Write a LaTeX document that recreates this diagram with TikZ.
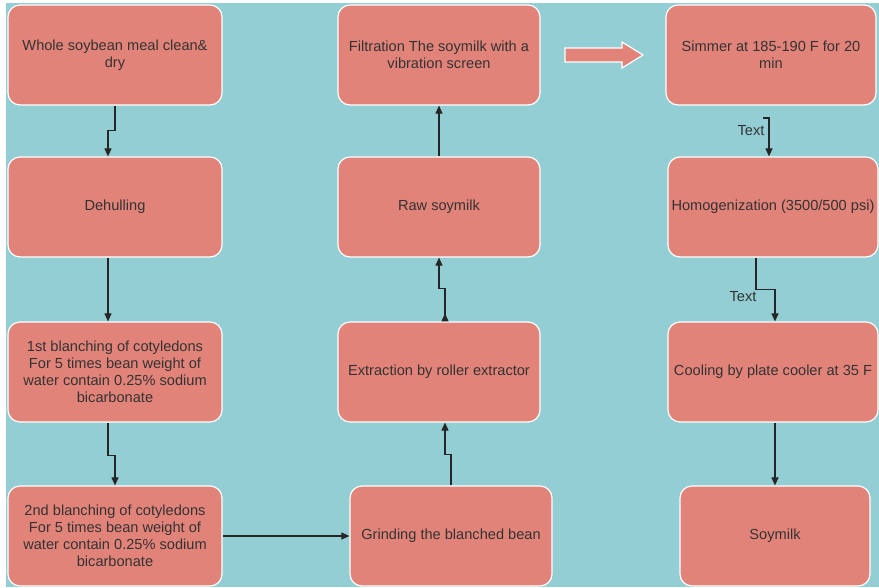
\documentclass[tikz,border=0pt]{standalone}
\usepackage{fontspec}
\setmainfont{Liberation Sans}
\usetikzlibrary{arrows.meta}
\definecolor{tealbg}{RGB}{146,206,211}
\definecolor{salmon}{RGB}{226,131,122}
\definecolor{ink}{RGB}{51,51,51}
\begin{document}
\begin{tikzpicture}[x=1pt,y=-1pt,
  stepbox/.style={draw=white, line width=1.2pt, fill=salmon, rounded corners=12pt,
    minimum height=100pt, inner sep=0pt, align=center, text=ink,
    font=\fontsize{14.6}{17}\selectfont},
  link/.style={draw=black!85, line width=1.1pt, -{Triangle[length=8pt,width=7pt]}},
  lbl/.style={text=ink, inner sep=0pt, font=\fontsize{14.6}{17}\selectfont}]
\useasboundingbox (0,0) rectangle (879,587);
\fill[tealbg] (6,3) rectangle (879,587);
\node[stepbox, minimum width=214pt] (1) at (115,55) {Whole soybean meal clean\&\\dry};
\node[stepbox, minimum width=214pt] (2) at (115,207) {Dehulling};
\node[stepbox, minimum width=214pt] (3) at (115,372) {1st blanching of cotyledons\\For 5 times bean weight of\\water contain 0.25\% sodium\\bicarbonate};
\node[stepbox, minimum width=214pt] (4) at (115,536) {2nd blanching of cotyledons\\For 5 times bean weight of\\water contain 0.25\% sodium\\bicarbonate};
\node[stepbox, minimum width=202pt] (5) at (451,536) {Grinding the blanched bean};
\node[stepbox, minimum width=202pt] (6) at (439,372) {Extraction by roller extractor};
\node[stepbox, minimum width=202pt] (7) at (439,207) {Raw soymilk};
\node[stepbox, minimum width=202pt] (8) at (439,55) {Filtration The soymilk with a\\vibration screen};
\node[stepbox, minimum width=210pt] (9) at (771,55) {Simmer at 185-190 F for 20\\min};
\node[stepbox, minimum width=210pt] (10) at (773,207) {Homogenization (3500/500 psi)};
\node[stepbox, minimum width=210pt] (11) at (773,372) {Cooling by plate cooler at 35 F};
\node[stepbox, minimum width=190pt] (12) at (775,536) {Soymilk};
\node[lbl] (t1) at (751,131) {Text};
\node[lbl] (t2) at (743,297) {Text};
\coordinate (c1) at (763,118);
\path[link] (1.south) -- ++(0,25) -| ([xshift=-7pt]2.north);
\path[link] ([xshift=-7pt]2.south) -- ([xshift=-7pt]3.north);
\path[link] ([xshift=-7pt]3.south) -- ++(0,33) -| (4.north);
\path[link] (4.east) -- (5.west);
\path[link] (5.north) -- ++(0,-31) -| ([xshift=6pt]6.south);
\path[link, {Triangle[length=8pt,width=7pt,reversed]}-{Triangle[length=8pt,width=7pt]}] ([xshift=6pt]6.north) -- ++(0,-33) -| (7.south);
\path[link] (7.north) -- (8.south);
\filldraw[fill=salmon, draw=white, line width=1.2pt] (565,48) -- (622,48) -- (622,42) -- (643,55) -- (622,68) -- (622,62) -- (565,62) -- cycle;
\path[link] (c1) -| ([xshift=-4pt]10.north);
\path[link] ([xshift=-17pt]10.south) -- ++(0,32) -| ([xshift=2pt]11.north);
\path[link] ([xshift=2pt]11.south) -- (12.north);
\end{tikzpicture}
\end{document}
